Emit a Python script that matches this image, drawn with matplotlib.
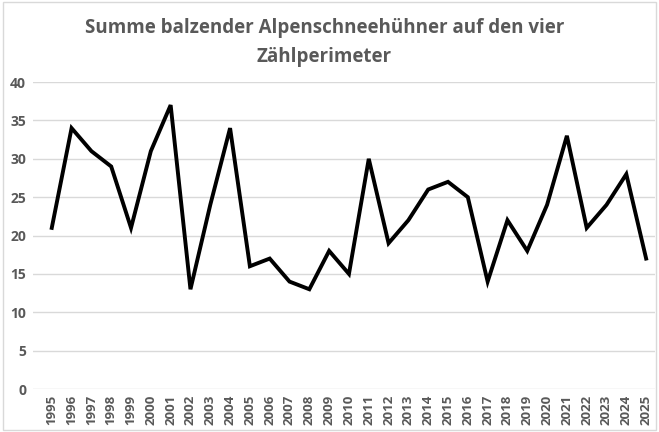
import matplotlib.pyplot as plt
from matplotlib.patches import Rectangle

years = list(range(1995, 2026))
summe = [21, 34, 31, 29, 21, 31, 37, 13, 24, 34, 16, 17, 14, 13, 18, 15,
         30, 19, 22, 26, 27, 25, 14, 22, 18, 24, 33, 21, 24, 28, 17]
yticks = [0, 5, 10, 15, 20, 25, 30, 35, 40]

plt.rcParams['font.family'] = ['Open Sans', 'DejaVu Sans']

fig = plt.figure(figsize=(6.59, 4.32), dpi=100)
fig.patches.append(Rectangle((0.004, 0.004), 0.992, 0.992, transform=fig.transFigure,
                             fill=False, edgecolor='#d9d9d9', linewidth=1))
ax = fig.add_axes([0.05, 0.0995, 0.944, 0.7105])

ax.plot(years, summe, color='black', linewidth=2.8, solid_joinstyle='miter')
ax.set_ylim(0, 40)
ax.set_xlim(1994.05, 2025.45)
ax.set_yticks(yticks)
ax.set_xticks(years)
ax.set_xticklabels([str(y) for y in years], rotation=90, fontsize=9.5,
                   fontweight='bold', color='#595959')
ax.set_yticklabels([str(v) for v in yticks], fontsize=10, fontweight='bold',
                   color='#595959')
ax.grid(axis='y', color='#d9d9d9', linewidth=1)
ax.set_axisbelow(True)
ax.tick_params(length=0, pad=4)
ax.tick_params(axis='y', pad=5)
for s in ax.spines.values():
    s.set_visible(False)

fig.text(0.492, 0.902, 'Summe balzender Alpenschneehühner auf den vier\nZählperimeter',
         ha='center', va='center', fontsize=13.5, fontweight='bold', color='#595959',
         linespacing=1.6)

fig.savefig('out.png', dpi=100)
